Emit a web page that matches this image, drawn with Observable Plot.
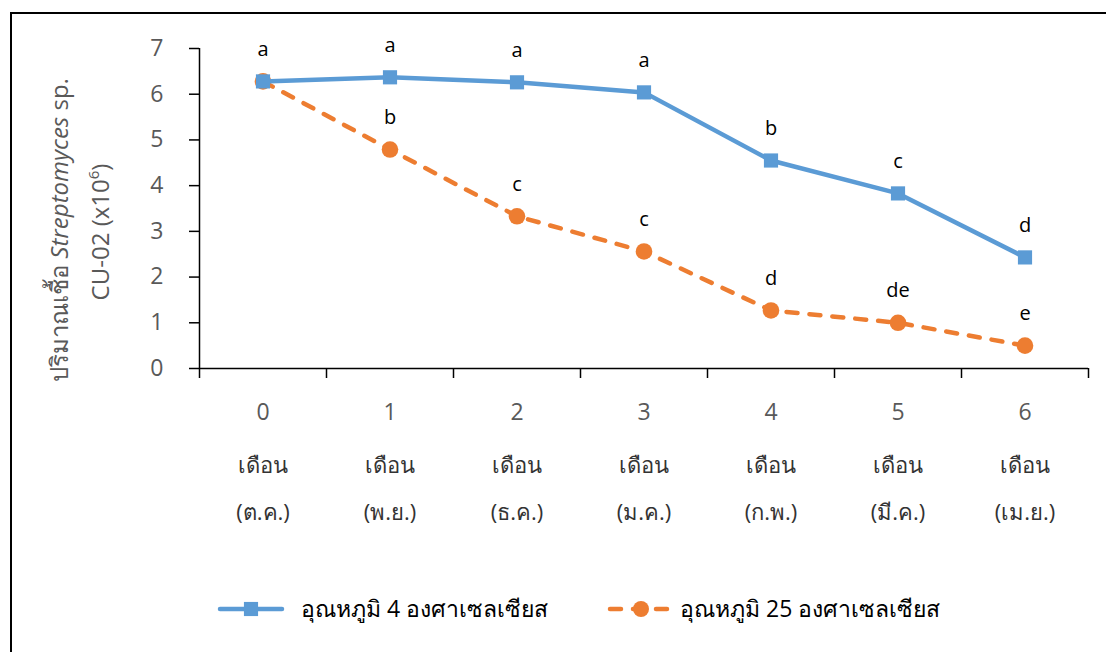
<!DOCTYPE html>
<html>
<head>
<meta charset="utf-8">
<script src="https://cdn.jsdelivr.net/npm/d3@7"></script>
<script src="https://cdn.jsdelivr.net/npm/@observablehq/plot@0.6"></script>
<style>
  html, body { margin: 0; padding: 0; background: #fff; }
  #wrap { position: relative; width: 1106px; height: 652px; overflow: hidden; }
  #frame { position: absolute; left: 10px; top: 12px; width: 1200px; height: 700px; border-left: 2px solid #000; border-top: 2px solid #000; }
  #chart { position: absolute; left: 0; top: 0; }
</style>
</head>
<body>
<div id="wrap"><div id="frame"></div><div id="chart"></div></div>
<script>
const months = [0, 1, 2, 3, 4, 5, 6];
const monthNames = ["(ต.ค.)", "(พ.ย.)", "(ธ.ค.)", "(ม.ค.)", "(ก.พ.)", "(มี.ค.)", "(เม.ย.)"];
const temp4 = [6.28, 6.37, 6.26, 6.04, 4.55, 3.83, 2.43];
const temp25 = [6.28, 4.79, 3.33, 2.56, 1.27, 1.00, 0.50];
const letters4 = ["a", "a", "a", "a", "b", "c", "d"];
const letters25 = ["", "b", "c", "c", "d", "de", "e"];
const seriesNames = ["อุณหภูมิ 4 องศาเซลเซียส", "อุณหภูมิ 25 องศาเซลเซียส"];
const yTicks = [0, 1, 2, 3, 4, 5, 6, 7];

const blue = "#5B9BD5", orange = "#ED7D31", gray = "#595959";
const font = "'Open Sans', 'Noto Sans', sans-serif";

const d4 = months.map((m, i) => ({m, v: temp4[i], l: letters4[i]}));
const d25 = months.map((m, i) => ({m, v: temp25[i], l: letters25[i]}));
const bounds = months.map(m => m - 0.5).concat([months[months.length - 1] + 0.5]);

const plot = Plot.plot({
  width: 1106,
  height: 652,
  marginLeft: 199,
  marginRight: 18,
  marginTop: 48,
  marginBottom: 284,
  style: {fontFamily: font, background: "transparent", overflow: "visible"},
  x: {domain: [bounds[0], bounds[bounds.length - 1]], axis: null},
  y: {domain: [0, 7], axis: null},
  marks: [
    Plot.axisY({ticks: yTicks, tickSize: 10, tickFormat: () => "", label: null, stroke: "#000", strokeWidth: 1.5}),
    Plot.axisY({ticks: yTicks, tickSize: 0, tickPadding: 36, tickFormat: d3.format("d"), label: null, fontSize: 23, color: gray}),
    Plot.axisX({ticks: bounds, tickSize: 10, tickFormat: () => "", label: null, stroke: "#000", strokeWidth: 1.5}),
    Plot.ruleX([bounds[0]], {stroke: "#000", strokeWidth: 1.5}),
    Plot.ruleY([0], {stroke: "#000", strokeWidth: 1.5}),
    Plot.text(months, {x: d => d, y: () => 0, dy: 44, text: d => String(d), fontSize: 23, fill: gray}),
    Plot.text(months, {x: d => d, y: () => 0, dy: 97, text: () => "เดือน", fontSize: 22, fill: "#333"}),
    Plot.text(months, {x: d => d, y: () => 0, dy: 144, text: (d, i) => monthNames[i], fontSize: 22, fill: "#333"}),
    Plot.line(d25, {x: "m", y: "v", stroke: orange, strokeWidth: 4.5, strokeDasharray: "11,12", strokeLinecap: "round"}),
    Plot.dot(d25, {x: "m", y: "v", r: 8.3, fill: orange, stroke: null, symbol: "circle"}),
    Plot.line(d4, {x: "m", y: "v", stroke: blue, strokeWidth: 4.5}),
    Plot.dot(d4, {x: "m", y: "v", r: 8, fill: blue, stroke: null, symbol: "square"}),
    Plot.text(d4, {x: "m", y: "v", text: "l", dy: -32, fontSize: 20, fill: "#000"}),
    Plot.text(d25.filter(d => d.l), {x: "m", y: "v", text: "l", dy: -32, fontSize: 20, fill: "#000"})
  ]
});

document.getElementById("chart").appendChild(plot);

// Y-axis title (two lines, with italic genus name and superscript)
const svg = d3.select(plot);
const t1 = svg.append("text")
  .attr("transform", "translate(68,230) rotate(-90)")
  .attr("text-anchor", "middle")
  .attr("font-family", font).attr("font-size", 24).attr("fill", gray);
t1.append("tspan").text("ปริมาณเชื้อ ");
t1.append("tspan").attr("font-style", "italic").text("Streptomyces");
t1.append("tspan").text(" sp.");
const t2 = svg.append("text")
  .attr("transform", "translate(109,232) rotate(-90)")
  .attr("text-anchor", "middle")
  .attr("font-family", font).attr("font-size", 24).attr("fill", gray);
t2.append("tspan").text("CU-02 (x10");
t2.append("tspan").attr("font-size", 15).attr("dy", -10).text("6");
t2.append("tspan").attr("dy", 10).text(")");

// Legend
const lg = svg.append("g").attr("font-family", font).attr("font-size", 23).attr("text-anchor", "start");
const legendY = 609;
// series 1
lg.append("line").attr("x1", 220).attr("x2", 282).attr("y1", legendY).attr("y2", legendY)
  .attr("stroke", blue).attr("stroke-width", 4.5).attr("stroke-linecap", "round");
lg.append("path").attr("d", d3.symbol(d3.symbolSquare, 200)()).attr("transform", `translate(251,${legendY})`).attr("fill", blue);
lg.append("text").attr("x", 301).attr("y", legendY).attr("dy", "0.35em").attr("fill", "#000").text(seriesNames[0]);
// series 2
lg.append("line").attr("x1", 610).attr("x2", 672).attr("y1", legendY).attr("y2", legendY)
  .attr("stroke", orange).attr("stroke-width", 4.5).attr("stroke-linecap", "round").attr("stroke-dasharray", "11,12");
lg.append("circle").attr("cx", 641).attr("cy", legendY).attr("r", 8).attr("fill", orange);
lg.append("text").attr("x", 680).attr("y", legendY).attr("dy", "0.35em").attr("fill", "#000").text(seriesNames[1]);
</script>
</body>
</html>
